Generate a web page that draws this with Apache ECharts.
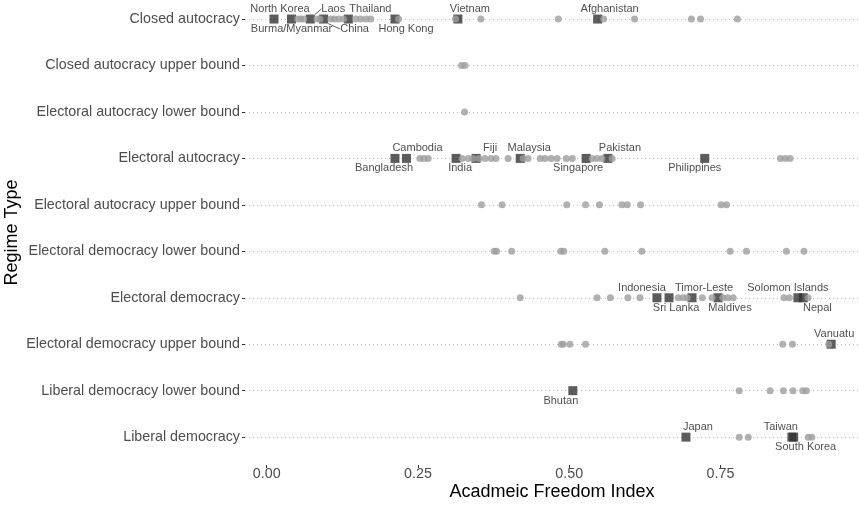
<!DOCTYPE html>
<html>
<head>
<meta charset="utf-8">
<script src="https://cdn.jsdelivr.net/npm/echarts@6/dist/echarts.min.js"></script>
<style>
html, body { margin: 0; background: #fff; }
#chart { width: 859px; height: 505px; }
</style>
</head>
<body>
<div id="chart"></div>
<script>
// regime types, top to bottom
const regimes = [
  "Closed autocracy",
  "Closed autocracy upper bound",
  "Electoral autocracy lower bound",
  "Electoral autocracy",
  "Electoral autocracy upper bound",
  "Electoral democracy lower bound",
  "Electoral democracy",
  "Electoral democracy upper bound",
  "Liberal democracy lower bound",
  "Liberal democracy"
]

// unlabelled countries (grey dots), one list per regime type
const closedAutocracy = [0.051, 0.056, 0.061, 0.083, 0.088, 0.106, 0.112, 0.119, 0.127, 0.147, 0.155, 0.164, 0.172, 0.218, 0.312, 0.354, 0.482, 0.557, 0.608, 0.702, 0.717, 0.778]
const closedAutocracyUpper = [0.322, 0.328]
const electoralAutocracyLower = [0.327]
const electoralAutocracy = [0.253, 0.260, 0.267, 0.323, 0.333, 0.341, 0.351, 0.361, 0.371, 0.379, 0.399, 0.424, 0.432, 0.452, 0.460, 0.470, 0.480, 0.495, 0.505, 0.538, 0.546, 0.554, 0.571, 0.849, 0.857, 0.865]
const electoralAutocracyUpper = [0.355, 0.389, 0.496, 0.527, 0.550, 0.587, 0.596, 0.618, 0.751, 0.760]
const electoralDemocracyLower = [0.376, 0.380, 0.405, 0.486, 0.491, 0.559, 0.620, 0.766, 0.793, 0.859, 0.888]
const electoralDemocracy = [0.419, 0.546, 0.568, 0.597, 0.617, 0.680, 0.688, 0.695, 0.720, 0.736, 0.754, 0.762, 0.771, 0.855, 0.864, 0.895]
const electoralDemocracyUpper = [0.487, 0.490, 0.501, 0.527, 0.853, 0.869, 0.929]
const liberalDemocracyLower = [0.781, 0.832, 0.854, 0.870, 0.886, 0.892]
const liberalDemocracy = [0.781, 0.796, 0.895, 0.901]

const greyRows = [closedAutocracy, closedAutocracyUpper, electoralAutocracyLower, electoralAutocracy,
  electoralAutocracyUpper, electoralDemocracyLower, electoralDemocracy, electoralDemocracyUpper,
  liberalDemocracyLower, liberalDemocracy]

// labelled countries (dark squares)
const countries = ["North Korea", "Burma/Myanmar", "Laos", "China", "Thailand", "Hong Kong", "Vietnam", "Afghanistan",
  "Bangladesh", "Cambodia", "India", "Fiji", "Malaysia", "Singapore", "Pakistan", "Philippines",
  "Indonesia", "Sri Lanka", "Timor-Leste", "Maldives", "Solomon Islands", "Nepal",
  "Vanuatu", "Bhutan", "Japan", "Taiwan", "South Korea"]
const countryScores = [0.012, 0.041, 0.072, 0.094, 0.135, 0.212, 0.316, 0.547,
  0.212, 0.231, 0.313, 0.346, 0.419, 0.528, 0.564, 0.724,
  0.645, 0.665, 0.703, 0.746, 0.878, 0.887,
  0.933, 0.506, 0.693, 0.868, 0.871]
const countryRegimes = [0, 0, 0, 0, 0, 0, 0, 0,
  3, 3, 3, 3, 3, 3, 3, 3,
  6, 6, 6, 6, 6, 6,
  7, 8, 9, 9, 9]

// where each label sits: [above(-1) / below(1), horizontal shift px]
const labelPlace = {
  "North Korea": [-1, 6], "Burma/Myanmar": [1, 0], "Laos": [-1, 23], "China": [1, 31],
  "Thailand": [-1, 22], "Hong Kong": [1, 11], "Vietnam": [-1, 12], "Afghanistan": [-1, 12],
  "Bangladesh": [1, -11], "Cambodia": [-1, 11], "India": [1, 4], "Fiji": [-1, 14],
  "Malaysia": [-1, 9], "Singapore": [1, -8], "Pakistan": [-1, 12], "Philippines": [1, -10],
  "Indonesia": [-1, -15], "Sri Lanka": [1, 7], "Timor-Leste": [-1, 12], "Maldives": [1, 12],
  "Solomon Islands": [-1, -10], "Nepal": [1, 14], "Vanuatu": [-1, 3], "Bhutan": [1, -12],
  "Japan": [-1, 12], "Taiwan": [-1, -11], "South Korea": [1, 12]
}
const withLine = ["Laos", "China"]

const xTicks = [0, 0.25, 0.5, 0.75]
const yTicks = regimes.map((r, i) => i)

const chart = echarts.init(document.getElementById("chart"))

const greyData = []
greyRows.forEach((row, i) => {
  row.forEach(v => greyData.push([v, 9 - i]))
})

const squareData = countries.map((c, i) => ({
  name: c,
  value: [countryScores[i], 9 - countryRegimes[i]],
  labelLine: { show: withLine.includes(c) }
}))

const font = "Liberation Sans"

const option = {
  animation: false,
  grid: { left: 245, right: 0, top: 0, bottom: 40, outerBoundsMode: "none", containLabel: false },
  xAxis: {
    type: "value",
    min: -0.0359,
    max: 0.979,
    axisLine: { show: false, onZero: false },
    axisTick: { customValues: xTicks, length: 3, lineStyle: { color: "#333" } },
    axisLabel: {
      customValues: xTicks,
      formatter: v => v.toFixed(2),
      color: "#4d4d4d",
      fontSize: 14.3,
      fontFamily: font,
      margin: 2
    },
    splitLine: { show: false },
    name: "Acadmeic Freedom Index",
    nameLocation: "middle",
    nameMoveOverlap: false,
    nameGap: 18,
    nameTextStyle: { fontSize: 18, color: "#000", fontFamily: font }
  },
  yAxis: {
    type: "value",
    min: -0.6,
    max: 9.41,
    axisLine: { show: false, onZero: false },
    axisTick: { customValues: yTicks, length: 3, lineStyle: { color: "#333" } },
    axisLabel: {
      customValues: yTicks,
      formatter: v => regimes[9 - Math.round(v)],
      color: "#4d4d4d",
      fontSize: 14.3,
      fontFamily: font,
      margin: 5
    },
    splitLine: { show: false },
    name: "Regime Type",
    nameLocation: "middle",
    nameMoveOverlap: false,
    nameGap: 224,
    nameTextStyle: { fontSize: 18, color: "#000", fontFamily: font }
  },
  series: [
    {
      // dotted guide lines along each regime row
      type: "scatter",
      z: 1,
      data: [],
      markLine: {
        z: 1,
        silent: true,
        symbol: "none",
        label: { show: false },
        lineStyle: { color: "#bdbdbd", type: [1, 3], width: 1 },
        data: yTicks.map(i => ({ yAxis: i }))
      }
    },
    {
      type: "scatter",
      z: 2,
      symbol: "rect",
      symbolSize: 9,
      itemStyle: { color: "#333" },
      data: squareData,
      label: {
        show: true,
        position: "inside",
        formatter: p => p.name,
        color: "#222",
        fontSize: 11,
        fontFamily: font
      },
      labelLayout: params => {
        const p = labelPlace[countries[params.dataIndex]]
        return { dx: p[1], dy: p[0] * 10 }
      },
      labelLine: { show: false, lineStyle: { color: "#333", width: 0.8 } }
    },
    {
      type: "scatter",
      z: 3,
      symbol: "circle",
      symbolSize: 7,
      itemStyle: { color: "#9e9e9e" },
      data: greyData
    }
  ]
}

chart.setOption(option)
</script>
</body>
</html>
